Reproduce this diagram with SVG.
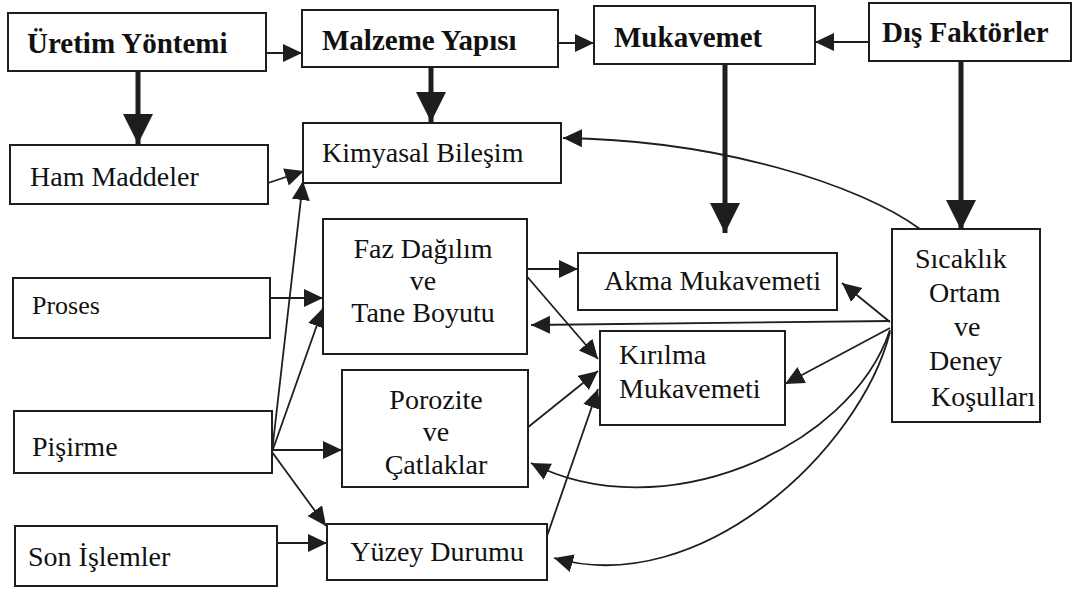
<svg xmlns="http://www.w3.org/2000/svg" width="1083" height="592" viewBox="0 0 1083 592">
<defs>
<style>
.box{fill:#fff;stroke:#1e1e1e;stroke-width:2}
.t{font-family:"Liberation Serif","Times New Roman",serif;font-size:28px;fill:#111}
.b{font-weight:bold;font-size:29px}
.c{stroke:#1e1e1e;stroke-width:1.8;fill:none}
.k{stroke:#1e1e1e;stroke-width:5;fill:none}
</style>
<marker id="a" markerUnits="userSpaceOnUse" markerWidth="22" markerHeight="20" refX="19" refY="9" orient="auto"><path d="M0,0 L19,9 L0,18 z" fill="#1e1e1e"/></marker>
<marker id="big" markerUnits="userSpaceOnUse" markerWidth="32" markerHeight="32" refX="30" refY="15" orient="auto"><path d="M0,0 L30,15 L0,30 z" fill="#1e1e1e"/></marker>
</defs>
<rect width="1083" height="592" fill="#fff"/>
<g id="connectors">
<line class="k" x1="138" y1="71" x2="138" y2="144" marker-end="url(#big)"/>
<line class="k" x1="431" y1="67" x2="431" y2="122" marker-end="url(#big)"/>
<line class="k" x1="725" y1="64" x2="725" y2="233" marker-end="url(#big)"/>
<line class="k" x1="961" y1="61" x2="961" y2="230" marker-end="url(#big)"/>
<line class="c" x1="266" y1="53" x2="302" y2="53" marker-end="url(#a)"/>
<line class="c" x1="558" y1="43" x2="594" y2="43" marker-end="url(#a)"/>
<line class="c" x1="869" y1="42" x2="815" y2="42" marker-end="url(#a)"/>
<line class="c" x1="268" y1="183" x2="304" y2="171" marker-end="url(#a)"/>
<line class="c" x1="272" y1="452" x2="303" y2="181" marker-end="url(#a)"/>
<line class="c" x1="270" y1="298" x2="323" y2="298" marker-end="url(#a)"/>
<line class="c" x1="272" y1="452" x2="323" y2="308" marker-end="url(#a)"/>
<line class="c" x1="272" y1="450" x2="342" y2="450" marker-end="url(#a)"/>
<line class="c" x1="272" y1="452" x2="326" y2="526" marker-end="url(#a)"/>
<line class="c" x1="277" y1="543" x2="327" y2="543" marker-end="url(#a)"/>
<line class="c" x1="527" y1="269" x2="578" y2="269" marker-end="url(#a)"/>
<line class="c" x1="524" y1="273" x2="598" y2="359" marker-end="url(#a)"/>
<line class="c" x1="527" y1="428" x2="598" y2="371" marker-end="url(#a)"/>
<line class="c" x1="546" y1="539" x2="598" y2="389" marker-end="url(#a)"/>
<line class="c" x1="890" y1="321" x2="531" y2="325" marker-end="url(#a)"/>
<line class="c" x1="890" y1="322" x2="842" y2="283" marker-end="url(#a)"/>
<line class="c" x1="890" y1="328" x2="785" y2="384" marker-end="url(#a)"/>
<path class="c" d="M890,330 C850,450 660,530 531,463" marker-end="url(#a)"/>
<path class="c" d="M890,332 C860,450 700,600 554,558" marker-end="url(#a)"/>
<path class="c" d="M920,229 C860,185 720,140 563,138" marker-end="url(#a)"/>
</g>
<g id="uretim"><rect class="box" x="8" y="13" width="258" height="58"/><text class="t b" x="27" y="53">Üretim Yöntemi</text></g>
<g id="malzeme"><rect class="box" x="302" y="10" width="256" height="57"/><text class="t b" x="322" y="50">Malzeme Yapısı</text></g>
<g id="mukavemet"><rect class="box" x="594" y="6" width="221" height="58"/><text class="t b" x="614" y="47">Mukavemet</text></g>
<g id="dis"><rect class="box" x="869" y="3" width="202" height="58"/><text class="t b" x="882" y="42">Dış Faktörler</text></g>
<g id="ham"><rect class="box" x="10" y="145" width="258" height="59"/><text class="t" x="30" y="186">Ham Maddeler</text></g>
<g id="kimyasal"><rect class="box" x="303" y="123" width="258" height="60"/><text class="t" x="322" y="162">Kimyasal Bileşim</text></g>
<g id="proses"><rect class="box" x="13" y="278" width="257" height="60"/><text class="t" x="32" y="314" style="font-size:26px">Proses</text></g>
<g id="faz"><rect class="box" x="323" y="219" width="204" height="135"/><text class="t" x="423" y="258" text-anchor="middle">Faz Dağılım</text><text class="t" x="423" y="290" text-anchor="middle">ve</text><text class="t" x="423" y="322" text-anchor="middle">Tane Boyutu</text></g>
<g id="pisirme"><rect class="box" x="14" y="411" width="258" height="62"/><text class="t" x="32" y="456">Pişirme</text></g>
<g id="porozite"><rect class="box" x="342" y="370" width="186" height="117"/><text class="t" x="436" y="409" text-anchor="middle">Porozite</text><text class="t" x="436" y="441" text-anchor="middle">ve</text><text class="t" x="436" y="474" text-anchor="middle">Çatlaklar</text></g>
<g id="son"><rect class="box" x="15" y="526" width="262" height="60"/><text class="t" x="28" y="566">Son İşlemler</text></g>
<g id="yuzey"><rect class="box" x="327" y="524" width="220" height="56"/><text class="t" x="437" y="561" text-anchor="middle">Yüzey Durumu</text></g>
<g id="akma"><rect class="box" x="578" y="253" width="259" height="57"/><text class="t" x="604" y="290">Akma Mukavemeti</text></g>
<g id="kirilma"><rect class="box" x="600" y="331" width="185" height="94"/><text class="t" x="619" y="364">Kırılma</text><text class="t" x="619" y="398">Mukavemeti</text></g>
<g id="sicaklik"><rect class="box" x="892" y="229" width="148" height="193"/><text class="t" x="915" y="268">Sıcaklık</text><text class="t" x="929" y="302">Ortam</text><text class="t" x="954" y="336">ve</text><text class="t" x="929" y="370">Deney</text><text class="t" x="931" y="406">Koşulları</text></g>
</svg>
